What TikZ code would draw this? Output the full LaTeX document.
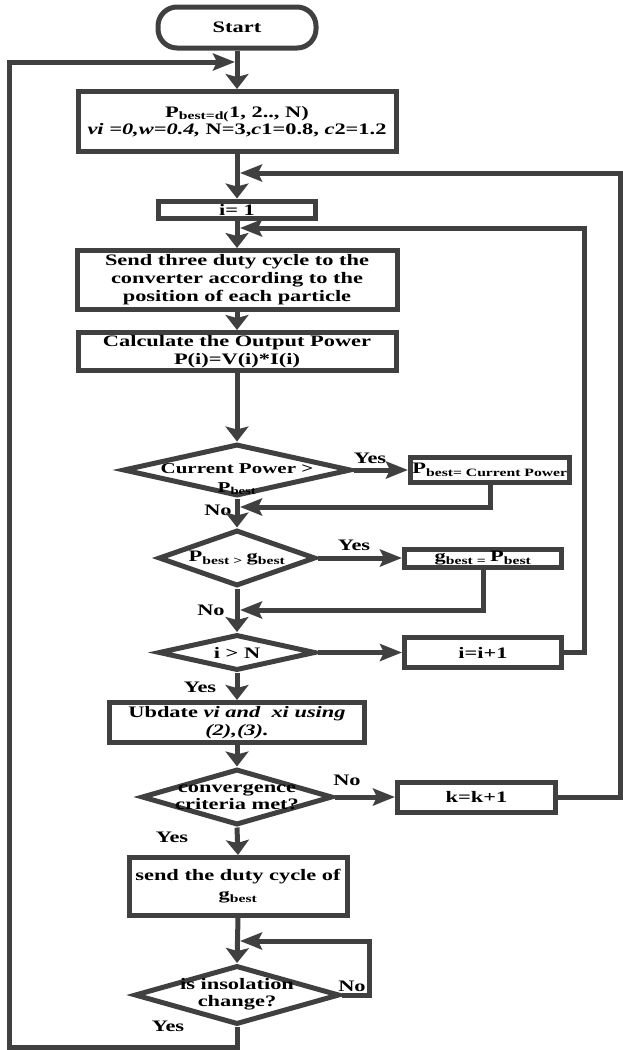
\documentclass[tikz,border=0pt]{standalone}
\usepackage{fontspec}
\setmainfont{Liberation Serif}[FakeStretch=1.4]
\usetikzlibrary{arrows.meta,shapes.geometric}
\definecolor{lc}{RGB}{64,64,64}
\tikzset{
  base/.style={draw=lc, line width=5pt, inner sep=0pt, align=center,
    font=\fontsize{16}{18}\selectfont\bfseries, text=black},
  box/.style={base, rectangle},
  dia/.style={base, diamond},
  dtxt/.style={inner sep=0pt, align=center, font=\fontsize{16}{18}\selectfont\bfseries},
  lbl/.style={inner sep=0pt, font=\fontsize{16}{18}\selectfont\bfseries},
  conn/.style={draw=lc, line width=5pt},
  va/.style={conn, -{Stealth[length=15pt,width=23pt,inset=3pt]}},
  ha/.style={conn, -{Stealth[length=22pt,width=17pt,inset=4pt]}},
}
\begin{document}
\begin{tikzpicture}[x=1pt,y=-1pt]
\useasboundingbox (0,0) rectangle (623,1050);
% nodes
\node[box, rounded corners=19pt, minimum width=158pt, minimum height=41pt] (start) at (237,27.5) {Start};
\node[box, minimum width=318pt, minimum height=60pt] (init) at (237,121.5)
  {P\textsubscript{best=d(}1, 2.., N)\\[-1pt]\textit{vi =0,w=0.4,} N=3,\textit{c}1=0.8, \textit{c}2=1.2};
\node[box, minimum width=157pt, minimum height=17pt] (i1) at (237,209.5) {i= 1};
\node[box, minimum width=320pt, minimum height=59pt] (send) at (237,280)
  {Send three duty cycle to the\\converter according to the\\position of each particle};
\node[box, minimum width=318pt, minimum height=38pt] (calc) at (237,351.5)
  {Calculate the Output Power\\P(i)=V(i)*I(i)};
\node[dia, minimum width=228pt, minimum height=52pt] (d1) at (237,470) {};
\node[dtxt, font=\fontsize{15}{19}\selectfont\bfseries] (d1t) at (237,479) {Current Power >\\P\textsubscript{best}};
\node[box, minimum width=159pt, minimum height=25pt] (pb) at (490,470) {P\textsubscript{best= Current Power}};
\node[dia, minimum width=157pt, minimum height=56pt] (d2) at (237,558) {};
\node[dtxt] (d2t) at (237,558) {P\textsubscript{best > }g\textsubscript{best}};
\node[box, minimum width=157pt, minimum height=18pt] (gb) at (483,558) {g\textsubscript{best = }P\textsubscript{best}};
\node[dia, minimum width=157pt, minimum height=36pt] (d3) at (237,652.5) {};
\node[dtxt] (d3t) at (237,652.5) {i > N};
\node[box, minimum width=157pt, minimum height=30pt] (ip) at (483,652.5) {i=i+1};
\node[box, minimum width=255pt, minimum height=40pt] (upd) at (237,722.5)
  {Ubdate \textit{vi and\ \ xi using}\\\textit{(2),(3).}};
\node[dia, minimum width=191pt, minimum height=56pt] (d4) at (237,797) {};
\node[dtxt, font=\fontsize{16}{17}\selectfont\bfseries] (d4t) at (237,797) {convergence\\criteria met?};
\node[box, minimum width=158pt, minimum height=30pt] (kk) at (476.5,797) {k=k+1};
\node[box, minimum width=218pt, minimum height=58pt] (duty) at (238,886.5)
  {send the duty cycle of\\[1pt]g\textsubscript{best}};
\node[dia, minimum width=205pt, minimum height=59pt] (d5) at (237,995) {};
\node[dtxt, font=\fontsize{16}{17}\selectfont\bfseries] (d5t) at (237,994) {is insolation\\change?};
% labels
\node[lbl] (y1) at (370,458) {Yes};
\node[lbl] (n1) at (218,510) {No};
\node[lbl] (y2) at (354,545) {Yes};
\node[lbl] (n2) at (211,610) {No};
\node[lbl] (y3) at (200,687) {Yes};
\node[lbl] (n3) at (347,780) {No};
\node[lbl] (y4) at (172,837) {Yes};
\node[lbl] (n4) at (352,986) {No};
\node[lbl] (y5) at (168,1026) {Yes};
% coordinates
\coordinate (lt) at (9,62);
\coordinate (lb) at (9,1047);
\coordinate (j0) at (235,62);
\coordinate (r1) at (620,173);
\coordinate (j1) at (240,173);
\coordinate (r2) at (584,228);
\coordinate (j2) at (240,228);
\coordinate (j3) at (240,507);
\coordinate (j4) at (240,610);
\coordinate (r5) at (369,941);
\coordinate (j5) at (240,941);
% connectors
\draw[va] (start.south) -- (init.north);
\draw[ha] (d5.south) -- (d5.south |- lb) -- (lb) -- (lt) -- (j0);
\draw[va] (init.south) -- (i1.north);
\draw[ha] (kk.east) -- (kk.east -| r1) -- (r1) -- (j1);
\draw[va] (i1.south) -- (send.north);
\draw[ha] (ip.east) -- (ip.east -| r2) -- (r2) -- (j2);
\draw[va] (send.south) -- (calc.north);
\draw[va] (calc.south) -- (d1.north);
\draw[ha] (d1.east) -- (pb.west);
\draw[ha] (pb.south) -- (pb.south |- j3) -- (j3);
\draw[va] (d1.south) -- (d2.north);
\draw[ha] (d2.east) -- (gb.west);
\draw[ha] (gb.south) -- (gb.south |- j4) -- (j4);
\draw[va] (d2.south) -- (d3.north);
\draw[ha] (d3.east) -- (ip.west);
\draw[va] (d3.south) -- (upd.north);
\draw[va] (upd.south) -- (d4.north);
\draw[ha] (d4.east) -- (kk.west);
\draw[va] (d4.south) -- (duty.north);
\draw[va] (duty.south) -- (d5.north);
\draw[ha] (d5.east) -- (d5.east -| r5) -- (r5) -- (j5);
\end{tikzpicture}
\end{document}
